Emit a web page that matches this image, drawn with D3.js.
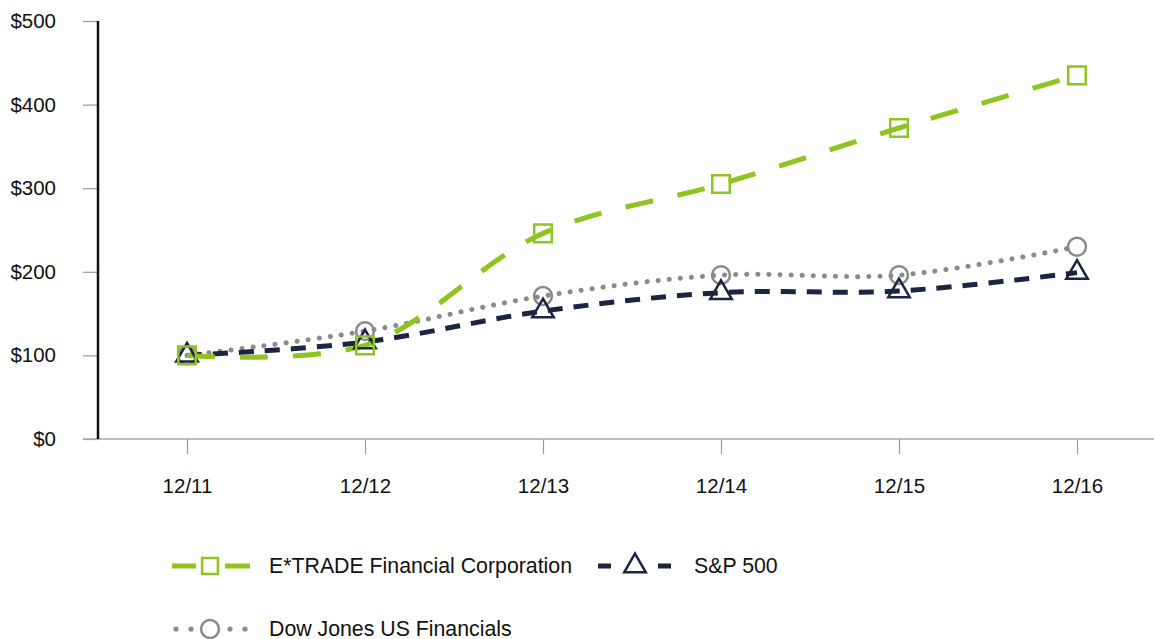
<!DOCTYPE html>
<html>
<head>
<meta charset="utf-8">
<script src="https://cdn.jsdelivr.net/npm/d3@7"></script>
<style>
  body { margin: 0; background: #fff; }
  text { font-family: "Liberation Sans", Arial, sans-serif; }
</style>
</head>
<body>
<div id="wrapper"></div>
<script>
// 1. DATA
const years = ["12/11", "12/12", "12/13", "12/14", "12/15", "12/16"]
const etrade = [100, 112, 246, 305, 372, 435]
const sp500 = [100, 116, 153, 175, 177, 199]
const dowJones = [100, 129, 171, 196, 196, 230]
const yTicks = [0, 100, 200, 300, 400, 500]

const series = [
  { name: "E*TRADE Financial Corporation", values: etrade, color: "#8fc31f", width: 5, dash: "28 25", cap: "butt", symbol: d3.symbolSquare, size: 310, markerColor: "#8fc31f" },
  { name: "S&P 500", values: sp500, color: "#1b2440", width: 5, dash: "15 11", cap: "butt", symbol: d3.symbolTriangle, size: 200, markerColor: "#1b2440" },
  { name: "Dow Jones US Financials", values: dowJones, color: "#8a8a8a", width: 5, dash: "0.1 11", cap: "round", symbol: d3.symbolCircle, size: 250, markerColor: "#8a8a8a" },
]

// 2. DIMENSIONS
const dimensions = { width: 1154, height: 639 }
const plot = { left: 98, top: 21, bottom: 439, right: 1154 }

// 3. CANVAS
const svg = d3.select("#wrapper")
  .append("svg")
  .attr("width", dimensions.width)
  .attr("height", dimensions.height)

// 4. SCALES
const xScale = d3.scalePoint()
  .domain(years)
  .range([187, 1077])

const yScale = d3.scaleLinear()
  .domain([0, 500])
  .range([plot.bottom, plot.top])

// 5. AXES
const yAxis = svg.append("g")
  .attr("transform", `translate(${plot.left},0)`)
  .call(d3.axisLeft(yScale).tickValues(yTicks).tickSize(15).tickPadding(27).tickFormat(d => "$" + d))
yAxis.select(".domain").remove()
yAxis.selectAll(".tick line").attr("stroke", "#9a9a9a").attr("stroke-width", 1.2)
yAxis.selectAll(".tick text").style("font-size", "20.5px").attr("fill", "#111")

const xAxis = svg.append("g")
  .attr("transform", `translate(0,${plot.bottom})`)
  .call(d3.axisBottom(xScale).tickSize(15).tickPadding(24))
xAxis.select(".domain").remove()
xAxis.selectAll(".tick line").attr("stroke", "#9a9a9a").attr("stroke-width", 1.2)
xAxis.selectAll(".tick text").style("font-size", "20.5px").attr("fill", "#111")

svg.append("line")
  .attr("x1", 83).attr("x2", plot.right)
  .attr("y1", plot.bottom).attr("y2", plot.bottom)
  .attr("stroke", "#a8a8a8").attr("stroke-width", 1.5)

svg.append("line")
  .attr("x1", plot.left).attr("x2", plot.left)
  .attr("y1", plot.top).attr("y2", plot.bottom)
  .attr("stroke", "#111").attr("stroke-width", 2.5)

// 6. LINES
const lineGen = d3.line()
  .x((d, i) => xScale(years[i]))
  .y(d => yScale(d))
  .curve(d3.curveCatmullRom.alpha(0.5))

// draw in reverse so E*TRADE sits on top
const drawOrder = [series[2], series[1], series[0]]

drawOrder.forEach(s => {
  svg.append("path")
    .datum(s.values)
    .attr("d", lineGen)
    .attr("fill", "none")
    .attr("stroke", s.color)
    .attr("stroke-width", s.width)
    .attr("stroke-dasharray", s.dash)
    .attr("stroke-linecap", s.cap)
})

drawOrder.forEach(s => {
  svg.append("g").selectAll("path")
    .data(s.values)
    .join("path")
    .attr("transform", (d, i) => `translate(${xScale(years[i])},${yScale(d)})`)
    .attr("d", d3.symbol().type(s.symbol).size(s.size))
    .attr("fill", "none")
    .attr("stroke", s.markerColor)
    .attr("stroke-width", 2.5)
})

// 7. LEGEND
const legendItems = [
  { s: series[0], x: 172, y: 566 },
  { s: series[1], x: 597, y: 566 },
  { s: series[2], x: 172, y: 629 },
]

legendItems.forEach(({ s, x, y }) => {
  const g = svg.append("g").attr("transform", `translate(${x},${y})`)
  if (s === series[2]) {
    g.selectAll("circle.dot")
      .data([4, 19, 58, 73])
      .join("circle")
      .attr("cx", d => d).attr("cy", 0).attr("r", 2.6)
      .attr("fill", s.color)
  } else if (s === series[0]) {
    g.append("line").attr("x1", 0).attr("x2", 24).attr("stroke", s.color).attr("stroke-width", 5)
    g.append("line").attr("x1", 53).attr("x2", 78).attr("stroke", s.color).attr("stroke-width", 5)
  } else {
    g.append("line").attr("x1", 1).attr("x2", 14).attr("stroke", s.color).attr("stroke-width", 5)
    g.append("line").attr("x1", 61).attr("x2", 74).attr("stroke", s.color).attr("stroke-width", 5)
  }
  g.append("path")
    .attr("transform", `translate(38,0)`)
    .attr("d", d3.symbol().type(s.symbol).size(s === series[1] ? 200 : 250))
    .attr("fill", "none")
    .attr("stroke", s.markerColor)
    .attr("stroke-width", 2.5)
  g.append("text")
    .attr("x", 97)
    .attr("dy", "0.35em")
    .style("font-size", "21.3px")
    .attr("fill", "#111")
    .text(s.name)
})
</script>
</body>
</html>
